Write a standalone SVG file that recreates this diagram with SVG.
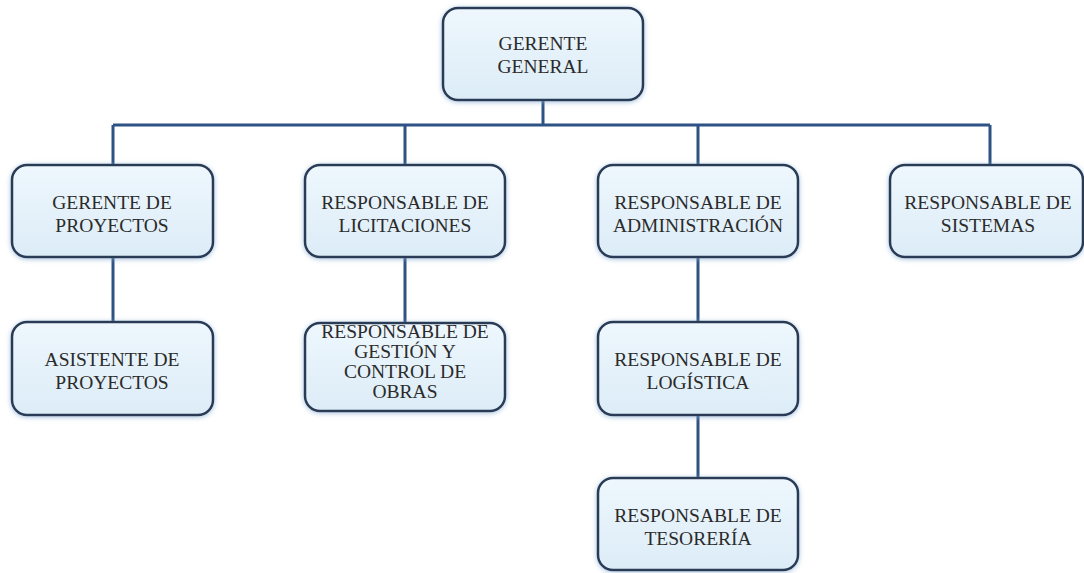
<svg xmlns="http://www.w3.org/2000/svg" width="1084" height="573" viewBox="0 0 1084 573">
<defs>
<linearGradient id="g" x1="0" y1="0" x2="0" y2="1">
<stop offset="0" stop-color="#eef7fd"/>
<stop offset="1" stop-color="#dcecf7"/>
</linearGradient>
<filter id="glow" x="-10%" y="-10%" width="120%" height="120%">
<feDropShadow dx="0" dy="1" stdDeviation="2.5" flood-color="#7fa8cf" flood-opacity="0.7"/>
</filter>
</defs>
<style>
.box{fill:url(#g);stroke:#2a3a55;stroke-width:2.5;filter:url(#glow)}
.t{font-family:'Liberation Serif','DejaVu Serif',serif;font-size:19.5px;fill:#2b2b2b;text-anchor:middle}
.c{stroke:#2d5283;stroke-width:3;fill:none}
</style>
<rect width="1084" height="573" fill="#ffffff"/>
<g id="connectors">
<path class="c" d="M543 100V125M113 125H990M113 125V165M405 125V165M698 125V165M990 125V165M113 257V322M405 257V323M698 257V322M698 415V478"/>
</g>
<g id="gerente-general">
<rect class="box" x="443" y="8" width="200" height="92" rx="15"/>
<text class="t" x="543" y="50">GERENTE</text>
<text class="t" x="543" y="73">GENERAL</text>
</g>
<g id="gerente-proyectos">
<rect class="box" x="12" y="165" width="201" height="92" rx="15"/>
<text class="t" x="112" y="209">GERENTE DE</text>
<text class="t" x="112" y="232">PROYECTOS</text>
</g>
<g id="resp-licitaciones">
<rect class="box" x="305" y="165" width="200" height="92" rx="15"/>
<text class="t" x="405" y="209">RESPONSABLE DE</text>
<text class="t" x="405" y="232">LICITACIONES</text>
</g>
<g id="resp-administracion">
<rect class="box" x="598" y="165" width="200" height="92" rx="15"/>
<text class="t" x="698" y="209">RESPONSABLE DE</text>
<text class="t" x="698" y="232">ADMINISTRACIÓN</text>
</g>
<g id="resp-sistemas">
<rect class="box" x="890" y="165" width="193" height="92" rx="15"/>
<text class="t" x="988" y="209">RESPONSABLE DE</text>
<text class="t" x="988" y="232">SISTEMAS</text>
</g>
<g id="asistente-proyectos">
<rect class="box" x="12" y="322" width="201" height="93" rx="15"/>
<text class="t" x="112" y="366">ASISTENTE DE</text>
<text class="t" x="112" y="389">PROYECTOS</text>
</g>
<g id="resp-gestion">
<rect class="box" x="305" y="323" width="200" height="88" rx="15"/>
<text class="t" x="405" y="338">RESPONSABLE DE</text>
<text class="t" x="405" y="358">GESTIÓN Y</text>
<text class="t" x="405" y="378">CONTROL DE</text>
<text class="t" x="405" y="398">OBRAS</text>
</g>
<g id="resp-logistica">
<rect class="box" x="598" y="322" width="200" height="93" rx="15"/>
<text class="t" x="698" y="366">RESPONSABLE DE</text>
<text class="t" x="698" y="389">LOGÍSTICA</text>
</g>
<g id="resp-tesoreria">
<rect class="box" x="598" y="478" width="200" height="92" rx="15"/>
<text class="t" x="698" y="522">RESPONSABLE DE</text>
<text class="t" x="698" y="545">TESORERÍA</text>
</g>
</svg>
